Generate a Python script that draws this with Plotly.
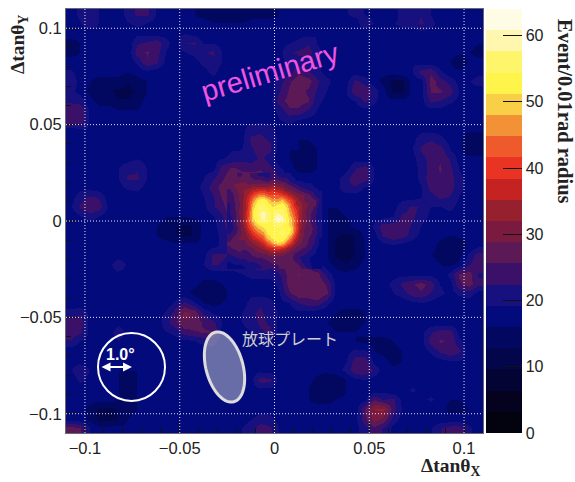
import numpy as np
import plotly.graph_objects as go

W, H = 575, 482
L, R, T, B = 66, 483, 9, 433
xr = [-0.11, 0.11]
yr = [0.11, -0.11]  # rows listed from top to bottom

tick_vals = [-0.1, -0.05, 0, 0.05, 0.1]
tick_text = ["\u22120.1", "\u22120.05", "0", "0.05", "0.1"]
cbar_ticks = [0, 10, 20, 30, 40, 50, 60]

band_colors = ["#03020f", "#04021f", "#030433", "#03064a", "#020860", "#030a7c", "#17107f",
               "#3b1069", "#5b1a56", "#7a1a3f", "#97202f", "#c42322", "#e93423", "#ee5a2b",
               "#f39137", "#f9cf48", "#fff44a", "#fff56a", "#fff7b0", "#fffce5"]

# event counts, 0.005 cells, top row first
counts = [
 [18,20,22,19,18,17,21,23,23,19,17, 17,17,16,15,15,15,15,13,15,15,15, 16,17,17,17,18,19,18,19,20,19,18, 17,17,21,22,22,19,17,17,17,17,16],
 [17,19,22,19,18,17,19,20,19,18,17, 17,17,17,17,16,16,16,16,17,17,17, 17,17,17,18,18,17,17,18,18,21,19, 18,19,20,21,23,20,18,17,17,17,16],
 [17,17,17,18,18,18,17,18,18,17,18, 18,19,18,17,17,17,17,17,17,17,17, 17,18,18,18,19,19,18,18,19,17,17, 18,18,18,17,18,18,18,17,17,17,17],
 [15,16,17,17,18,18,17,22,23,25,20, 18,22,23,19,19,18,18,17,18,18,17, 18,19,20,22,19,18,18,18,18,17,17, 17,17,18,18,18,17,18,18,17,17,16],
 [15,16,17,17,18,18,17,24,26,24,19, 18,19,20,22,23,19,18,17,18,18,17, 18,22,23,24,20,18,18,18,17,17,17, 17,17,18,18,18,18,17,17,17,16,15],
 [17,17,17,17,17,17,17,20,25,23,18, 18,18,18,20,21,19,19,18,18,18,17, 18,20,21,20,19,19,18,17,17,17,17, 17,17,18,19,18,17,17,16,13,17,17],
 [20,17,17,17,17,17,16,17,18,17,17, 17,17,18,18,20,18,18,18,18,18,18, 18,21,25,23,20,18,18,17,18,17,17, 17,17,18,19,24,25,20,17,17,17,18],
 [21,18,16,15,15,15,13,15,16,17,17, 17,17,18,18,18,18,18,18,18,18,18, 21,25,28,27,23,20,18,18,23,21,17, 15,12,12,17,18,27,24,21,18,19,21],
 [20,18,15,13,13,12,12,13,16,17,17, 17,17,18,18,18,17,18,18,18,18,18, 22,26,27,25,22,19,17,19,25,25,21, 17,12,12,17,18,26,26,24,19,18,17],
 [22,21,17,15,15,13,13,15,17,17,17, 17,17,18,18,18,18,18,18,18,18,18, 24,27,27,26,20,18,18,18,19,23,20, 17,17,17,17,18,23,22,20,18,17,17],
 [24,25,18,17,17,16,16,16,17,17,17, 18,18,18,18,18,18,18,18,18,18,18, 20,25,25,22,19,18,18,18,18,18,17, 18,17,18,18,18,18,18,17,17,18,18],
 [25,25,18,17,17,17,17,17,17,18,17, 18,18,18,18,18,18,18,18,18,18,18, 19,20,19,18,18,18,18,18,18,18,18, 18,18,18,18,18,18,18,17,17,17,17],
 [18,19,19,18,18,18,17,18,18,18,18, 18,17,17,17,17,17,17,18,21,22,20, 18,18,18,17,17,17,18,18,17,17,17, 18,18,18,18,18,18,18,18,17,17,17],
 [17,18,18,18,18,19,18,18,17,17,17, 18,17,17,16,17,17,18,18,23,23,22, 18,16,16,16,17,17,17,17,17,17,17, 17,17,18,18,21,22,20,18,17,13,13],
 [17,17,17,18,18,18,18,18,17,17,18, 18,18,17,17,17,18,19,19,22,24,23, 18,16,16,15,16,17,17,17,18,17,17, 17,17,18,19,23,25,24,19,17,13,13],
 [17,17,17,18,18,18,18,19,18,18,18, 18,18,18,18,18,19,20,21,21,23,21, 17,16,15,15,16,17,17,17,18,17,17, 17,17,17,18,21,24,25,22,18,17,17],
 [18,18,18,18,18,19,21,22,19,18,18, 18,18,18,18,18,24,26,25,24,25,23, 20,17,15,15,16,17,17,18,22,24,19, 17,17,17,18,20,24,26,23,19,17,17],
 [18,18,18,18,18,19,23,23,19,18,18, 18,18,18,19,22,25,28,27,28,28,26, 22,19,17,17,17,17,18,21,25,24,19, 17,17,17,18,20,25,25,24,20,18,17],
 [17,18,18,17,17,18,20,20,18,18,17, 17,18,18,20,24,27,28,30,32,30,30, 28,24,20,18,17,17,18,22,22,19,18, 17,17,17,18,19,24,25,24,20,18,17],
 [18,21,23,22,17,17,17,18,18,17,17, 17,17,17,19,22,26,30,36,44,46,38, 30,28,26,22,18,17,17,17,17,17,17, 18,18,18,18,19,21,23,22,19,18,17],
 [19,23,25,24,18,17,17,17,17,17,17, 17,17,17,18,22,24,30,40,58,58,45, 33,27,26,21,17,16,16,17,17,17,17, 18,18,21,23,22,19,19,20,18,17,17],
 [17,19,21,19,17,17,17,17,17,17,16, 16,16,17,17,19,22,28,40,58,60,50, 32,27,24,20,17,16,15,16,17,17,17, 18,19,23,23,21,18,18,18,18,17,17],
 [17,17,17,17,17,17,16,17,17,16,15, 13,12,13,17,18,21,26,36,52,57,48, 30,26,23,20,17,16,15,15,17,17,20, 24,24,24,22,19,17,17,17,17,17,17],
 [16,16,17,17,17,17,16,16,16,16,15, 13,12,13,17,18,20,24,30,38,42,35, 28,24,22,18,17,16,13,12,13,17,18, 23,25,24,21,18,17,17,16,17,17,17],
 [16,17,17,17,17,17,17,17,17,17,17, 17,17,17,17,18,20,22,26,30,30,28, 25,22,20,17,17,16,12,12,13,16,17, 18,19,18,17,17,17,15,13,13,17,18],
 [17,17,17,17,17,17,17,17,17,17,17, 17,17,17,18,23,23,22,24,26,28,25, 23,20,18,17,17,16,12,11,13,16,17, 17,17,17,17,17,16,15,13,15,20,24],
 [17,17,17,17,18,22,18,18,18,17,17, 17,17,18,19,23,22,21,22,24,26,24, 26,27,26,24,20,17,15,13,15,17,17, 17,18,17,17,17,17,16,15,17,22,25],
 [17,17,17,17,18,18,18,18,17,17,17, 17,17,17,17,17,18,18,19,20,20,20, 22,27,29,28,27,21,17,17,17,17,17, 17,18,18,18,18,18,17,20,26,27,22],
 [17,17,17,17,17,17,17,17,17,17,17, 17,17,17,15,15,16,17,18,18,18,18, 20,27,28,26,28,25,18,17,17,17,17, 18,20,23,25,27,24,19,18,25,27,23],
 [17,17,17,17,17,17,17,17,17,17,17, 17,17,15,13,13,15,17,17,18,18,18, 19,25,28,27,29,26,18,17,17,17,17, 18,19,21,24,25,22,20,18,20,21,18],
 [17,17,17,17,17,17,16,16,17,17,17, 20,23,20,16,15,16,17,17,21,22,20, 18,19,22,24,24,20,17,17,17,17,17, 17,17,17,18,19,18,17,17,17,17,17],
 [21,22,18,17,17,17,17,17,17,17,20, 24,30,28,22,19,18,18,19,22,23,21, 19,18,18,18,17,17,16,15,15,16,17, 17,17,17,17,17,17,17,17,17,17,17],
 [24,24,18,17,17,18,18,18,17,17,21, 25,28,28,25,23,19,18,19,21,23,22, 18,17,17,17,17,16,15,15,15,16,17, 17,17,17,17,17,17,17,17,17,17,17],
 [24,23,18,17,18,21,18,18,18,18,19, 20,24,25,26,26,18,17,18,19,22,23, 18,17,17,17,17,17,16,16,16,17,17, 17,17,17,17,18,22,24,24,18,17,17],
 [22,19,18,18,18,19,18,18,18,18,18, 18,18,19,20,20,18,17,18,18,19,18, 17,17,17,17,17,17,17,17,16,15,15, 15,16,17,17,18,24,26,25,20,17,17],
 [17,17,17,17,18,18,17,17,17,17,17, 18,18,18,18,18,18,18,18,18,18,18, 18,18,18,18,17,17,17,18,20,20,16, 15,15,16,17,17,20,23,25,23,17,17],
 [18,18,17,17,17,17,17,17,17,17,17, 17,18,18,18,18,18,18,18,18,18,18, 18,18,18,18,17,17,18,19,24,24,18, 17,15,16,17,17,17,18,19,19,17,17],
 [19,22,19,17,17,16,16,16,16,17,17, 17,18,18,18,18,18,18,18,18,18,18, 18,18,18,17,17,17,18,20,25,25,22, 17,17,17,17,17,17,17,17,17,17,17],
 [17,20,18,17,17,16,15,16,16,17,17, 17,17,17,18,18,18,18,18,18,24,23, 18,17,17,17,15,13,13,16,18,19,17, 17,17,17,17,17,17,17,17,17,17,17],
 [17,17,17,17,17,16,15,16,16,17,17, 17,17,17,18,18,18,18,18,18,18,18, 17,17,17,16,13,13,13,16,17,17,17, 18,17,17,20,18,17,17,17,17,17,17],
 [17,17,17,17,17,16,16,16,17,17,17, 17,17,17,17,18,17,18,18,17,17,17, 17,17,17,16,15,15,16,17,17,18,25, 22,23,18,17,18,20,17,16,16,17,17],
 [17,17,15,12,12,13,15,16,16,17,17, 17,17,17,17,17,17,17,17,17,18,18, 17,17,17,17,17,17,17,17,17,26,32, 33,24,19,18,17,17,17,15,15,16,16],
 [18,17,15,12,12,13,16,17,17,17,17, 17,17,17,17,17,17,18,18,19,21,20, 18,18,18,17,17,17,17,17,18,25,30, 28,21,18,18,17,17,17,17,17,17,17],
 [27,26,19,17,17,17,17,17,17,17,17, 17,17,17,17,17,18,18,19,21,24,23, 19,18,18,18,18,17,17,17,18,21,25, 22,18,17,17,18,19,22,24,24,20,17],
]

# central hot spot, read at 0.0025 cells, top row first
core_counts = [
 [27,26,25,26,26,24,22,22,20,24,22,20,20,19,19,18,18,17,17,17],
 [28,28,27,28,27,26,26,25,24,26,26,24,24,20,19,19,18,18,17,17],
 [27,29,30,30,29,30,30,30,30,32,30,30,27,25,23,21,20,20,18,18],
 [25,27,30,32,33,36,37,38,36,38,36,34,31,29,27,25,23,22,20,19],
 [24,26,29,32,36,41,45,46,43,42,42,40,38,34,31,30,28,26,22,20],
 [23,26,29,33,38,46,52,54,51,46,46,49,44,40,34,31,28,27,26,22],
 [22,25,28,33,39,49,54,55,53,50,51,53,49,42,35,33,30,28,26,21],
 [22,25,29,33,40,51,55,56,55,52,54,55,52,44,38,34,29,27,24,20],
 [22,24,29,34,41,52,56,61,56,54,59,56,53,46,40,33,29,26,23,20],
 [21,24,28,34,42,51,55,59,55,54,62,60,54,49,41,33,29,26,23,20],
 [20,24,28,33,41,47,52,54,54,54,56,55,53,49,40,33,29,26,23,20],
 [20,23,27,32,38,44,48,51,53,54,54,54,54,51,41,32,28,27,24,20],
 [22,24,28,30,35,40,44,47,52,53,54,56,54,50,39,31,28,26,24,20],
 [24,27,29,29,32,36,39,43,49,52,53,54,51,44,35,30,27,25,22,19],
 [26,28,28,28,30,32,34,38,42,47,51,50,44,38,31,29,27,24,22,19],
 [25,26,27,26,27,29,31,33,36,38,39,38,35,31,28,26,25,23,20,18],
 [23,24,25,24,25,27,28,29,30,32,31,30,29,27,25,24,23,21,19,17],
 [20,22,23,23,24,25,26,26,27,28,28,28,27,26,24,22,21,19,18,17],
 [19,20,20,21,22,22,23,24,25,26,26,26,26,27,25,23,21,19,17,17],
 [17,18,18,19,20,20,21,23,23,24,25,27,28,28,28,26,23,20,17,17],
]
assert all(len(r) == 44 for r in counts) and len(counts) == 44

n_bands = len(band_colors)
cscale = []
for i, c in enumerate(band_colors):
    cscale += [[i / n_bands, c], [(i + 1) / n_bands, c]]

zmin, zmax = 0, 64


def centers(lo, n, step):
    return [lo + (i + 0.5) * step for i in range(n)]


xs = centers(-0.11, 44, 0.005)
ys = centers(0.11, 44, -0.005)
xc = centers(-0.025, 20, 0.0025)
yc = centers(0.025, 20, -0.0025)

fig = go.Figure()
fig.add_trace(go.Heatmap(
    x=xs, y=ys, z=counts, zmin=zmin, zmax=zmax, colorscale=cscale, zsmooth="best",
    hoverinfo="skip",
    colorbar=dict(x=(486 - L) / (R - L), xanchor="left", xpad=0, y=0, yanchor="bottom", ypad=0,
                  len=1, thickness=36, outlinewidth=0,
                  tickmode="array", tickvals=cbar_ticks, ticktext=[str(v) for v in cbar_ticks],
                  ticks="inside", ticklen=19, tickwidth=1, tickcolor="#111111",
                  tickfont=dict(family="Liberation Sans", size=16, color="#222222")),
))
fig.add_trace(go.Heatmap(
    x=xc, y=yc, z=core_counts, zmin=zmin, zmax=zmax, colorscale=cscale, zsmooth="best",
    showscale=False, hoverinfo="skip",
))

axis_common = dict(
    tickmode="array", tickvals=tick_vals, ticktext=tick_text,
    ticks="inside", ticklen=11, tickwidth=1, tickcolor="#111111",
    tickfont=dict(family="Liberation Sans", size=16.5, color="#222222"),
    minor=dict(tickmode="linear", tick0=0, dtick=0.01, ticks="inside", ticklen=5,
               tickcolor="#111111", tickwidth=1, showgrid=False),
    showgrid=False, zeroline=False, showline=True, linecolor="#667", linewidth=1, mirror=True,
    layer="above traces",
)

shapes = []
for v in tick_vals:
    shapes.append(dict(type="line", xref="x", yref="paper", x0=v, x1=v, y0=0, y1=1, layer="above",
                       line=dict(color="rgba(255,255,255,0.9)", width=1, dash="1px,2px")))
    shapes.append(dict(type="line", xref="paper", yref="y", x0=0, x1=1, y0=v, y1=v, layer="above",
                       line=dict(color="rgba(255,255,255,0.9)", width=1, dash="1px,2px")))


def px_x(p):
    return (p - L) / (R - L) * (xr[1] - xr[0]) + xr[0]


def px_y(p):
    return yr[1] + (B - p) / (B - T) * (yr[0] - yr[1])


# field-of-view circle
shapes.append(dict(type="circle", xref="x", yref="y", layer="above",
                   x0=px_x(98), x1=px_x(165), y0=px_y(333), y1=px_y(401),
                   line=dict(color="white", width=2)))

# balloon-plate ellipse
t = np.linspace(0, 2 * np.pi, 73)
a, b, ang = 36, 18.5, np.deg2rad(15)
ex = 224.5 + b * np.cos(t) * np.cos(ang) + a * np.sin(t) * np.sin(ang)
ey = 367 - b * np.cos(t) * np.sin(ang) + a * np.sin(t) * np.cos(ang)
path = "M " + " L ".join(f"{px_x(u):.5f},{px_y(v):.5f}" for u, v in zip(ex, ey)) + " Z"
shapes.append(dict(type="path", path=path, xref="x", yref="y", layer="above",
                   fillcolor="rgba(215,215,215,0.48)", line=dict(color="#dddddd", width=3)))


def note(text, x, y, **kw):
    d = dict(text=text, x=(x - L) / (R - L), y=(B - y) / (B - T), xref="paper", yref="paper",
             showarrow=False)
    d.update(kw)
    return d


SERIF = "Liberation Serif"
annotations = [
    note("<b>\u0394tan\u03b8<sub>X</sub></b>", 483, 467, xanchor="right", yanchor="middle",
         font=dict(family=SERIF, size=19.5, color="#222222")),
    note("<b>\u0394tan\u03b8<sub>Y</sub></b>", 19, 44, xanchor="center", yanchor="middle", textangle=-90,
         font=dict(family=SERIF, size=19.5, color="#222222")),
    note("<b>Event/0.01rad radius</b>", 565, 111, xanchor="center", yanchor="middle", textangle=90,
         font=dict(family=SERIF, size=20.5, color="#222222")),
    note("preliminary", 270, 72, xanchor="center", yanchor="middle", textangle=-16.5,
         font=dict(family="Liberation Sans", size=29, color="#ee55e2")),
    note("放球プレート", 289.5, 338, xanchor="center", yanchor="middle",
         font=dict(family="Noto Sans CJK JP", size=16, color="#cfcfcf")),
    note("<b>1.0°</b>", 120, 354, xanchor="center", yanchor="middle",
         font=dict(family="Liberation Sans", size=16, color="white")),
    dict(x=px_x(132), y=px_y(367), ax=px_x(100), ay=px_y(367), xref="x", yref="y", axref="x", ayref="y",
         text="", showarrow=True, arrowhead=2, arrowside="end+start", arrowsize=0.9, arrowwidth=2,
         arrowcolor="white", standoff=0, startstandoff=0),
]

fig.update_layout(
    width=W, height=H, autosize=False,
    margin=dict(l=L, r=W - R, t=T, b=H - B, pad=0),
    paper_bgcolor="white", plot_bgcolor="#030a7c",
    xaxis=dict(range=xr, **axis_common),
    yaxis=dict(range=[-0.11, 0.11], **axis_common),
    shapes=shapes, annotations=annotations, showlegend=False,
)
fig.write_html("out.html", config={"displayModeBar": False},
               post_script="document.body.style.margin='0';")
